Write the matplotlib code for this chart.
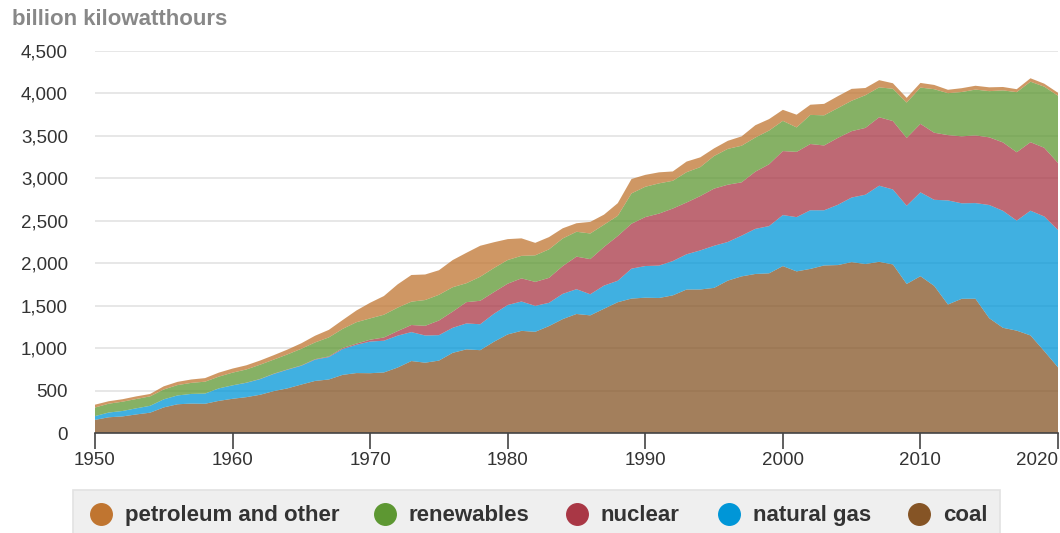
import numpy as np
import matplotlib
matplotlib.use("Agg")
import matplotlib.pyplot as plt
from matplotlib.patches import Rectangle
from matplotlib.ticker import FuncFormatter

plt.rcParams['font.family'] = ['Liberation Sans', 'DejaVu Sans']

years = list(range(1950, 2021))

coal = [154.5, 185.2, 195.4, 218.8, 239.1, 301.4, 338.5, 346.4, 344.4, 378.4,
        403.1, 422.2, 450.2, 493.9, 526.2, 570.9, 613.5, 630.5, 684.9, 706.0,
        704.4, 713.1, 771.1, 847.7, 828.4, 852.8, 944.4, 985.2, 975.7, 1075.0,
        1161.6, 1203.2, 1192.0, 1259.4, 1341.7, 1402.1, 1385.8, 1463.8, 1540.7, 1583.5,
        1594.0, 1590.6, 1621.2, 1690.1, 1690.7, 1709.4, 1795.2, 1845.0, 1873.5, 1881.1,
        1966.3, 1903.9, 1933.1, 1973.7, 1978.3, 2012.9, 1990.5, 2016.5, 1985.8, 1755.9,
        1847.3, 1733.4, 1514.0, 1581.1, 1581.7, 1352.4, 1239.1, 1205.8, 1149.5, 965.0, 773.4]

natural_gas = [44.6, 56.0, 64.0, 72.0, 81.0, 95.3, 104.0, 114.0, 120.0, 147.0,
               158.0, 169.0, 184.0, 202.0, 220.0, 221.6, 251.0, 264.0, 304.0, 333.0,
               372.9, 374.0, 375.7, 340.9, 320.1, 299.8, 294.6, 305.5, 305.4, 329.5,
               346.2, 345.8, 305.3, 274.1, 297.4, 291.9, 248.5, 272.6, 252.8, 352.6,
               372.8, 381.6, 404.1, 414.9, 460.2, 496.1, 455.1, 479.4, 531.3, 556.4,
               601.0, 639.1, 691.0, 649.9, 710.1, 761.0, 816.4, 896.6, 883.0, 921.0,
               987.7, 1013.7, 1225.9, 1124.8, 1126.6, 1333.5, 1378.3, 1296.4, 1469.1, 1585.8, 1617.5]

nuclear = [0, 0, 0, 0, 0, 0, 0, 0.01, 0.2, 0.2,
           0.5, 1.7, 2.3, 3.2, 3.3, 3.7, 5.5, 7.7, 12.5, 13.9,
           21.8, 38.1, 54.1, 83.5, 114.0, 172.5, 191.1, 250.9, 276.4, 255.2,
           251.1, 272.7, 282.8, 293.7, 327.6, 383.7, 414.0, 455.3, 527.0, 529.4,
           576.9, 612.6, 618.8, 610.3, 640.4, 673.4, 674.7, 628.6, 673.7, 728.3,
           753.9, 768.8, 780.1, 763.7, 788.5, 782.0, 787.2, 806.4, 806.2, 798.9,
           807.0, 790.2, 769.3, 789.0, 797.2, 797.2, 805.7, 805.0, 807.1, 809.4, 789.9]

renewables = [100.9, 104.0, 109.5, 109.6, 111.3, 116.2, 122.0, 130.0, 140.0, 138.6,
              149.4, 155.5, 168.0, 166.0, 177.1, 196.0, 197.0, 224.0, 225.0, 252.0,
              251.0, 268.0, 276.0, 275.0, 304.0, 303.0, 287.0, 223.0, 283.0, 284.0,
              279.0, 265.0, 313.0, 336.0, 325.0, 293.0, 302.0, 262.0, 238.0, 357.0,
              357.0, 356.0, 327.0, 357.0, 341.0, 384.0, 422.0, 431.0, 402.0, 397.0,
              356.0, 288.0, 343.0, 355.0, 351.0, 358.0, 385.0, 352.0, 380.0, 417.0,
              427.0, 513.0, 494.0, 522.0, 540.0, 544.0, 613.0, 708.0, 713.0, 720.0, 792.0]

petroleum_other = [33.7, 29.0, 29.0, 31.0, 28.0, 37.1, 38.0, 40.0, 42.0, 47.0,
                   48.0, 49.0, 49.0, 52.0, 57.0, 64.8, 79.0, 89.0, 104.0, 138.0,
                   184.2, 220.2, 274.3, 314.3, 300.9, 289.1, 320.0, 358.2, 365.1, 303.5,
                   246.0, 206.4, 146.8, 144.5, 119.8, 100.2, 136.6, 118.5, 148.9, 170.0,
                   140.0, 130.0, 110.0, 125.0, 115.0, 90.0, 95.0, 110.0, 145.0, 135.0,
                   130.0, 150.0, 120.0, 135.0, 140.0, 140.0, 85.0, 85.0, 65.0, 55.0,
                   55.0, 50.0, 40.0, 45.0, 45.0, 45.0, 40.0, 35.0, 40.0, 35.0, 35.0]

labels = ['petroleum and other', 'renewables', 'nuclear', 'natural gas', 'coal']
colors = ['#c07530', '#5d9732', '#a93745', '#0096d7', '#855425']

fig = plt.figure(figsize=(10.6, 5.33), dpi=100)
ax = fig.add_axes([95 / 1060, 1 - 433 / 533, 963 / 1060, 382 / 533])

# stacked areas, coal at the bottom
ax.stackplot(years, coal, natural_gas, nuclear, renewables, petroleum_other,
             colors=colors[::-1], alpha=0.75, linewidth=0, zorder=2)

ax.set_xlim(1950, 2020)
ax.set_ylim(0, 4500)
ax.set_yticks(range(0, 4501, 500))
ax.yaxis.set_major_formatter(FuncFormatter(lambda v, p: f'{int(v):,}'))
ax.set_xticks(range(1950, 2021, 10))
ax.grid(axis='y', color='#e3e3e3', linewidth=1.2, zorder=1)
ax.set_axisbelow(True)

for s in ['top', 'right', 'left']:
    ax.spines[s].set_visible(False)
ax.spines['bottom'].set_color('#444444')
ax.spines['bottom'].set_linewidth(1.2)
ax.spines['bottom'].set_zorder(3)
ax.tick_params(axis='y', length=0, pad=19.5, labelsize=13.5, labelcolor='#333333')
ax.tick_params(axis='x', length=11.5, width=1.2, color='#444444', pad=2.5,
               labelsize=13.5, labelcolor='#333333')
xlabels = ax.get_xticklabels()
xlabels[-1].set_horizontalalignment('right')

fig.text(12 / 1060, 1 - 25 / 533, 'billion kilowatthours', fontsize=16,
         fontweight='bold', color='#888888', va='baseline', ha='left')

# legend box
fig.patches.append(Rectangle((73 / 1060, -0.01), 927 / 1060, 43 / 533 + 0.01,
                             transform=fig.transFigure, facecolor='#efefef',
                             edgecolor='#e2e2e2', linewidth=1.2, zorder=0))
marker_x = [101, 385, 577, 729, 919]
for mx, lab, col in zip(marker_x, labels, colors):
    fig.lines.append(plt.Line2D([mx / 1060], [1 - 514 / 533], marker='o', markersize=15.5,
                                color=col, linestyle='none', transform=fig.transFigure))
    fig.text((mx + 24) / 1060, 1 - 521 / 533, lab, fontsize=16, fontweight='bold',
             color='#333333', va='baseline', ha='left')

fig.savefig('out.png', dpi=100)
